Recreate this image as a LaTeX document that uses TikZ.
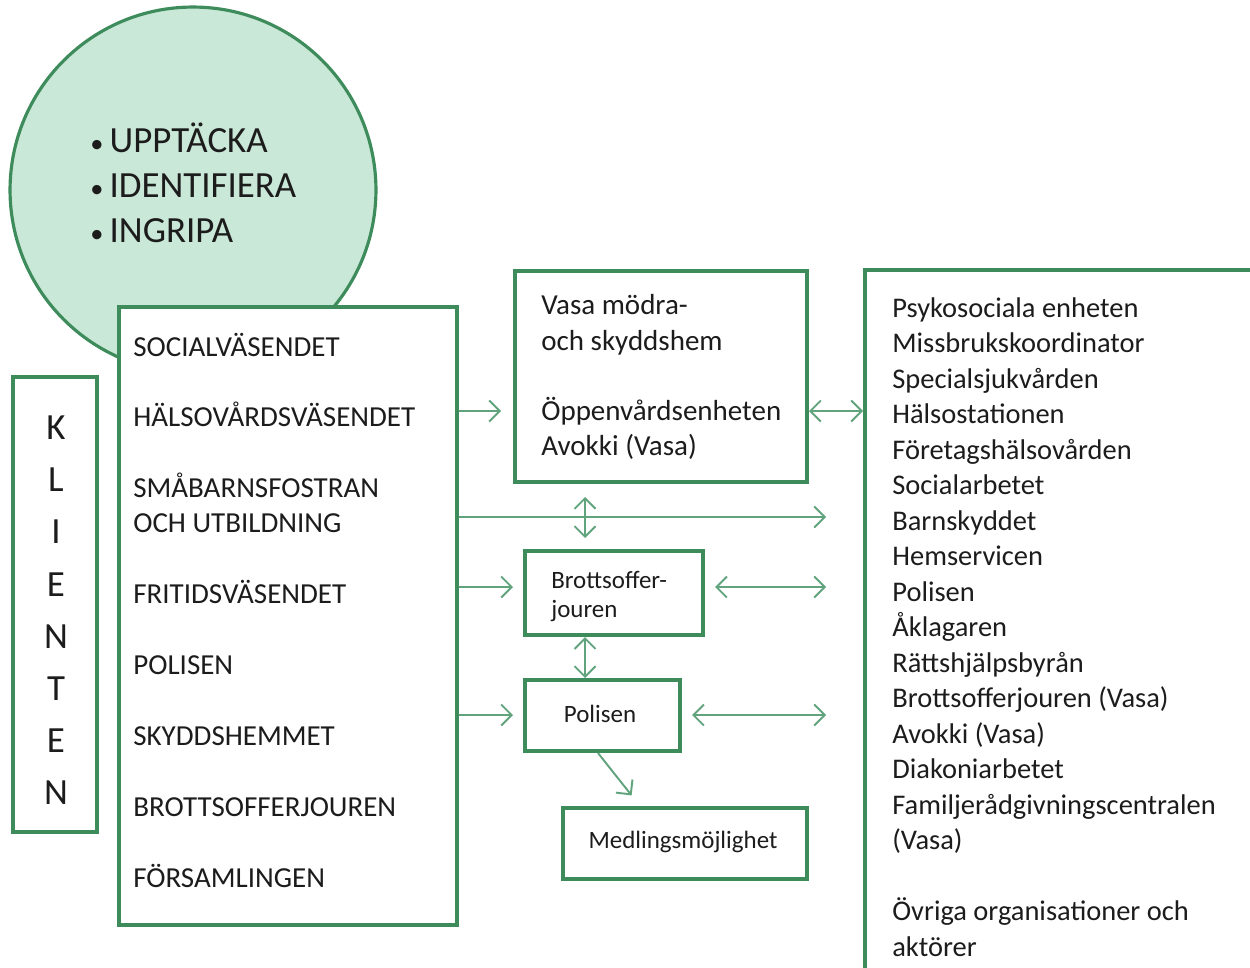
\documentclass[tikz,border=0pt]{standalone}
\usepackage{fontspec}
\setmainfont{Carlito}
\usepackage{tikz}
\usetikzlibrary{arrows.meta,positioning,calc}
\definecolor{myframegreen}{RGB}{62,140,92}
\definecolor{mymint}{RGB}{201,232,215}
\definecolor{myarrowgreen}{RGB}{96,163,124}
\definecolor{mytext}{RGB}{28,28,28}
\tikzstyle{frame}=[draw=myframegreen,line width=2.3pt,fill=white,rectangle,inner sep=0pt]
\tikzstyle{link}=[draw=myarrowgreen,line width=1.1pt,-{Straight Barb[length=6pt,width=12pt]}]
\tikzstyle{dlink}=[link,{Straight Barb[length=6pt,width=12pt]}-{Straight Barb[length=6pt,width=12pt]}]

\begin{document}
\begin{tikzpicture}[
  x=0.02cm, y=-0.02cm,
  every node/.style={text=mytext,inner sep=0pt},
  bigtxt/.style={font=\fontsize{21}{25}\selectfont},
  maintxt/.style={anchor=base west,font=\fontsize{16.5}{20}\selectfont},
  listtxt/.style={anchor=base west,font=\fontsize{16.2}{20}\selectfont},
  smalltxt/.style={font=\fontsize{14.2}{17}\selectfont}
]
\useasboundingbox (0,0) rectangle (1250,967);
\clip (0,0) rectangle (1250,967);
\fill[white] (0,0) rectangle (1250,967);

\node [circle,draw=myframegreen,fill=mymint,line width=1.8pt,minimum size=7.32cm] (goal) at (193,190) {};
\node [bigtxt,anchor=base west] (g1) at (90,152.5) {{\fontsize{15}{15}\selectfont•}\,UPPTÄCKA};
\node [bigtxt,anchor=base west] (g2) at (90,197.5) {{\fontsize{15}{15}\selectfont•}\,IDENTIFIERA};
\node [bigtxt,anchor=base west] (g3) at (90,242.5) {{\fontsize{15}{15}\selectfont•}\,INGRIPA};

\node [frame,minimum width=1.68cm,minimum height=9.1cm] (klient) at (55,604.5) {};
\foreach \c [count=\i] in {K,L,I,E,N,T,E,N}
  \node [bigtxt,anchor=base] (k\i) at (56,{439.5+52.2*(\i-1)}) {\c};

\node [frame,minimum width=6.76cm,minimum height=12.36cm] (main) at (288,616) {};
\node [maintxt] (m1) at (133,356.5) {SOCIALVÄSENDET};
\node [maintxt] (m2) at (133,426.5) {HÄLSOVÅRDSVÄSENDET};
\node [maintxt] (m3) at (133,497.5) {SMÅBARNSFOSTRAN};
\node [maintxt] (m4) at (133,532.5) {OCH UTBILDNING};
\node [maintxt] (m5) at (133,603.5) {FRITIDSVÄSENDET};
\node [maintxt] (m6) at (133,674.5) {POLISEN};
\node [maintxt] (m7) at (133,745.5) {SKYDDSHEMMET};
\node [maintxt] (m8) at (133,816.5) {BROTTSOFFERJOUREN};
\node [maintxt] (m9) at (133,887.5) {FÖRSAMLINGEN};

\node [frame,minimum width=5.84cm,minimum height=4.22cm] (vasa) at (661,376.5) {};
\node [maintxt] (v1) at (541,314) {Vasa mödra-};
\node [maintxt] (v2) at (541,350) {och skyddshem};
\node [maintxt] (v3) at (541,420) {Öppenvårdsenheten};
\node [maintxt] (v4) at (541,455) {Avokki (Vasa)};

\node [frame,minimum width=3.56cm,minimum height=1.68cm] (brott) at (614,593) {};
\node [smalltxt,anchor=base west] (b1) at (551,588.5) {Brottsoffer-};
\node [smalltxt,anchor=base west] (b2) at (551,617.5) {jouren};

\node [frame,minimum width=3.1cm,minimum height=1.42cm] (polis) at (602.5,715.5) {};
\node [smalltxt] (p1) at (600,714) {Polisen};

\node [frame,minimum width=4.88cm,minimum height=1.42cm] (medl) at (685,843.5) {};
\node [smalltxt] (d1) at (683,842) {Medlingsmöjlighet};

\node [frame,minimum width=8cm,minimum height=14.4cm] (right) at (1065,630) {};
\foreach \t [count=\i] in {Psykosociala enheten,Missbrukskoordinator,Specialsjukvården,
  Hälsostationen,Företagshälsovården,Socialarbetet,Barnskyddet,Hemservicen,Polisen,
  Åklagaren,Rättshjälpsbyrån,Brottsofferjouren (Vasa),Avokki (Vasa),Diakoniarbetet,
  Familjerådgivningscentralen,(Vasa),{},Övriga organisationer och,aktörer}
  \node [listtxt] (r\i) at (892,{317+35.5*(\i-1)}) {\t};

\draw [link,shorten >=0.24cm] (main.east |- 0,411) -- (vasa.west |- 0,411);
\draw [dlink] (vasa.east |- 0,411) -- (right.west |- 0,411);
\draw [link,shorten >=0.74cm] (main.east |- 0,517) -- (right.west |- 0,517);
\draw [dlink,shorten <=0.26cm,shorten >=0.22cm] (vasa.south -| 585,0) -- (brott.north -| 585,0);
\draw [link,shorten >=0.2cm] (main.east |- 0,587) -- (brott.west |- 0,587);
\draw [dlink,shorten <=0.2cm,shorten >=0.74cm] (brott.east |- 0,587) -- (right.west |- 0,587);
\draw [dlink] (brott.south -| 585,0) -- (polis.north -| 585,0);
\draw [link,shorten >=0.2cm] (main.east |- 0,715) -- (polis.west |- 0,715);
\draw [dlink,shorten <=0.2cm,shorten >=0.74cm] (polis.east |- 0,715) -- (right.west |- 0,715);
\draw [link,shorten >=0.27cm] (polis.south -| 598,0) -- (medl.north -| 640,0);

\end{tikzpicture}
\end{document}
